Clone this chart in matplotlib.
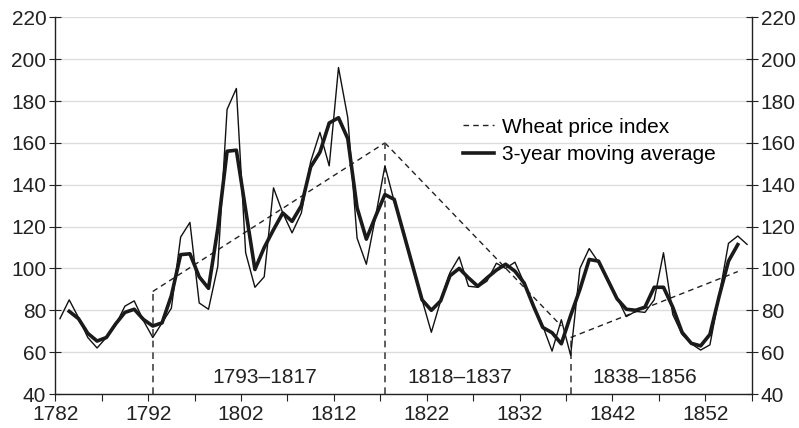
import numpy as np
import matplotlib
matplotlib.use("Agg")
import matplotlib.pyplot as plt

plt.rcParams['font.family'] = ['Liberation Sans', 'DejaVu Sans']

# annual wheat price index, 1782-1856
years = np.arange(1782, 1857)
wheat = [76, 85, 76.5, 67, 62, 67, 73, 82, 84.5, 75,
         67, 74, 81, 115, 122, 83.5, 80.5, 101, 176, 186,
         107.5, 91, 96, 138.5, 126.5, 117, 126.5, 151, 165, 149,
         196, 172, 114.5, 102, 125, 149, 132, 118, 101, 85,
         69.5, 84.5, 98, 105.5, 91.5, 91, 94, 102.5, 100, 103,
         93, 82.5, 72.5, 60.5, 75.5, 58.5, 100, 109.5, 103, 94,
         86, 77, 79.5, 79, 85, 107.5, 78, 68.5, 64, 61,
         63.5, 87, 112, 115.5, 111.5]

# 3-year moving average, 1783-1855
ma_years = np.arange(1783, 1856)
ma = [79.5, 76, 69, 65.3, 67, 73.5, 79, 80.5, 75.6, 72.5,
      74, 87, 106.6, 107, 96, 90.5, 119, 156, 156.5, 128,
      99.5, 110, 118.5, 126.5, 122.5, 130, 148.5, 155.5, 169.5, 172,
      162, 129, 114, 125, 135.3, 133, 117, 101, 85, 80,
      84.5, 96.5, 100, 95.5, 91.5, 95.5, 99.2, 102, 98.7, 93,
      82, 71.8, 69.3, 64, 77.5, 90, 104.3, 103.5, 94.5, 85.5,
      80.5, 80, 81.5, 91, 91, 81.5, 69.5, 64.2, 63, 68.5,
      86.8, 103.5, 111.4]

# period trend lines (start year, start value, end year, end value)
trend_x = [[1792, 1817], [1817, 1836], [1837, 1855]]
trend_y = [[89, 160], [160, 72.5], [67, 98.5]]
breaks = [1792, 1817, 1837]
break_tops = [89, 160, 67]
period_labels = ['1793\u20131817', '1818\u20131837', '1838\u20131856']
period_x = [1804.6, 1825.6, 1845.5]

# data points sit in the middle of each year
off = 0.5

fig = plt.figure(figsize=(7.99, 4.28), dpi=100)
ax = fig.add_axes([0.0692, 0.0794, 0.8716, 0.8802])

dash = (0, (4, 3))
for tx, ty in zip(trend_x, trend_y):
    ax.plot(np.array(tx) + off, ty, color='#222222', lw=1.0, linestyle=dash)
for bx, bt in zip(breaks, break_tops):
    ax.plot([bx + off, bx + off], [40, bt], color='#444444', lw=1.2, linestyle=dash)

ax.plot(years + off, wheat, color='#111111', lw=1.0)
ax.plot(ma_years + off, ma, color='#1a1a1a', lw=2.6)

# legend handles (dashed = trend / wheat index, thick = moving average)
h1, = ax.plot([], [], color='#222222', lw=1.0, linestyle=dash, label='Wheat price index')
h2, = ax.plot([], [], color='#1a1a1a', lw=2.6, label='3-year moving average')
ax.legend(handles=[h1, h2], loc='upper left', bbox_to_anchor=(0.558, 0.783),
          frameon=False, fontsize=15, handlelength=1.5, handletextpad=0.4,
          labelspacing=0.4)

for lab, px in zip(period_labels, period_x):
    ax.text(px, 48, lab, ha='center', va='center', fontsize=15, color='#222222')

ax.set_xlim(1782, 1857)
ax.set_ylim(40, 220)
ax.set_xticks(np.arange(1782, 1858, 5))
ax.set_xticklabels([str(y) if (y - 1782) % 10 == 0 else '' for y in range(1782, 1858, 5)])
ax.set_yticks(np.arange(40, 221, 20))

ax.yaxis.grid(True, color='#dddddd', lw=1.0)
ax.set_axisbelow(True)
ax.spines['top'].set_visible(False)
for s in ['left', 'right', 'bottom']:
    ax.spines[s].set_color('#222222')
    ax.spines[s].set_linewidth(1.0)

ax.tick_params(axis='y', direction='inout', length=9, right=True, labelright=True,
               labelsize=15, colors='#222222', pad=2)
ax.tick_params(axis='x', direction='out', length=5, labelsize=15, colors='#222222', pad=3)
for lbl in ax.get_xticklabels() + ax.get_yticklabels():
    lbl.set_family(['Liberation Sans Narrow', 'Liberation Sans', 'DejaVu Sans'])

fig.savefig('out.png', dpi=100)
